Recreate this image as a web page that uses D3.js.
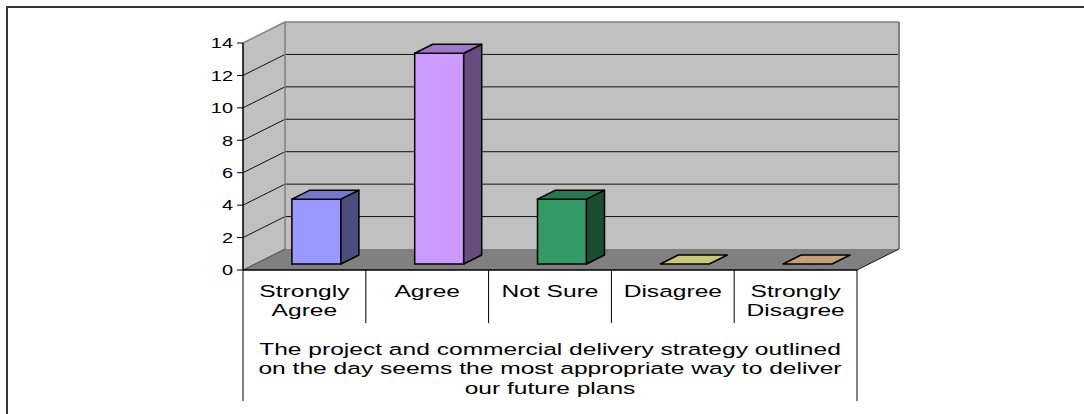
<!DOCTYPE html>
<html>
<head>
<meta charset="utf-8">
<script src="https://cdn.jsdelivr.net/npm/d3@7"></script>
<style>
  html, body { margin: 0; padding: 0; background: #fff; }
  svg { display: block; }
</style>
</head>
<body>
<div id="chart"></div>
<script>
// data
var categories = ["Strongly Agree", "Agree", "Not Sure", "Disagree", "Strongly Disagree"];
var catLines = [["Strongly", "Agree"], ["Agree"], ["Not Sure"], ["Disagree"], ["Strongly", "Disagree"]];
var values = [4, 13, 4, 0, 0];
var yTicks = [0, 2, 4, 6, 8, 10, 12, 14];
var titleLines = [
  "The project and commercial delivery strategy outlined",
  "on the day seems the most appropriate way to deliver",
  "our future plans"
];
var fronts = ["#9999ff", "#cc99ff", "#339966", "#ffff99", "#ffcc99"];

var width = 1084, height = 414;
var svg = d3.select("#chart").append("svg")
  .attr("width", width)
  .attr("height", height)
  .attr("font-family", "'Liberation Sans', Arial, sans-serif");

// outer frame (right and bottom run past the window)
svg.append("rect")
  .attr("x", 7).attr("y", 7)
  .attr("width", 1200).attr("height", 500)
  .attr("fill", "#fff")
  .attr("stroke", "#333").attr("stroke-width", 2);

var x = d3.scaleBand().domain(categories).range([243, 857]);
var y = d3.scaleLinear().domain([0, 14]).range([270, 43]);
var dx = 42, dy = -21;   // depth of the 3d box
var d0 = 0.2857, d1 = 0.7143;  // bar depth span
var stretch = 1.33;      // text in the original is stretched sideways
var fs = 15;
var lfs = 16.5, lstretch = 1.49;  // category + title text

var x0 = x.range()[0], x1 = x.range()[1];
var yb = y(0), yt = y(14);

// side wall
svg.append("polygon")
  .attr("points", [[x0, yb], [x0 + dx, yb + dy], [x0 + dx, yt + dy], [x0, yt]].join(" "))
  .attr("fill", "#c0c0c0");
// back wall
svg.append("rect")
  .attr("x", x0 + dx).attr("y", yt + dy)
  .attr("width", x1 - x0).attr("height", yb - yt)
  .attr("fill", "#c0c0c0");
// floor
svg.append("polygon")
  .attr("points", [[x0, yb], [x1, yb], [x1 + dx, yb + dy], [x0 + dx, yb + dy]].join(" "))
  .attr("fill", "#808080");

// gridlines on back wall and side wall
yTicks.filter(function(d) { return d > 0; }).forEach(function(t) {
  svg.append("line")
    .attr("x1", x0 + dx).attr("x2", x1 + dx)
    .attr("y1", y(t) + dy).attr("y2", y(t) + dy)
    .attr("stroke", t == 14 ? "#808080" : "#111").attr("stroke-width", t == 14 ? 1.5 : 1);
  svg.append("line")
    .attr("x1", x0).attr("x2", x0 + dx)
    .attr("y1", y(t)).attr("y2", y(t) + dy)
    .attr("stroke", t == 14 ? "#808080" : "#111").attr("stroke-width", t == 14 ? 1.5 : 1);
});
// wall edges
svg.append("line")
  .attr("x1", x0 + dx).attr("x2", x0 + dx)
  .attr("y1", yt + dy).attr("y2", yb + dy)
  .attr("stroke", "#808080").attr("stroke-width", 1.5);
svg.append("line")
  .attr("x1", x1 + dx).attr("x2", x1 + dx)
  .attr("y1", yt + dy).attr("y2", yb + dy)
  .attr("stroke", "#808080").attr("stroke-width", 2);
svg.append("line")
  .attr("x1", x0).attr("x2", x0 + dx)
  .attr("y1", yb).attr("y2", yb + dy)
  .attr("stroke", "#444").attr("stroke-width", 1);
svg.append("line")
  .attr("x1", x1).attr("x2", x1 + dx)
  .attr("y1", yb).attr("y2", yb + dy)
  .attr("stroke", "#111").attr("stroke-width", 1);

// bars
var barW = 49;
var bars = svg.selectAll("g.bar")
  .data(categories.map(function(c, i) { return {cat: c, value: values[i], color: fronts[i]}; }))
  .enter().append("g").attr("class", "bar");

bars.each(function(d) {
  var g = d3.select(this);
  var fx = x(d.cat) + x.bandwidth() / 2 - barW / 2 + d0 * dx;
  var fb = yb + d0 * dy, ft = y(d.value) + d0 * dy;
  var ox = (d1 - d0) * dx, oy = (d1 - d0) * dy;
  var c = d3.color(d.color);
  var top = d3.rgb(c.r * 0.78, c.g * 0.78, c.b * 0.78);
  var side = d3.rgb(c.r * 0.5, c.g * 0.5, c.b * 0.5);
  if (d.value > 0) {
    g.append("rect")
      .attr("x", fx).attr("y", ft).attr("width", barW).attr("height", fb - ft)
      .attr("fill", d.color).attr("stroke", "#000").attr("stroke-width", 1.5);
    g.append("polygon")
      .attr("points", [[fx + barW, fb], [fx + barW + ox, fb + oy], [fx + barW + ox, ft + oy], [fx + barW, ft]].join(" "))
      .attr("fill", side).attr("stroke", "#000").attr("stroke-width", 1.5).attr("stroke-linejoin", "round");
  }
  g.append("polygon")
    .attr("points", [[fx, ft], [fx + barW, ft], [fx + barW + ox, ft + oy], [fx + ox, ft + oy]].join(" "))
    .attr("fill", top).attr("stroke", "#000").attr("stroke-width", 1.5).attr("stroke-linejoin", "round");
});

// value axis
svg.append("line")
  .attr("x1", x0).attr("x2", x0).attr("y1", yt).attr("y2", yb)
  .attr("stroke", "#000").attr("stroke-width", 1.5);
yTicks.forEach(function(t) {
  svg.append("line")
    .attr("x1", x0 - 6).attr("x2", x0).attr("y1", y(t)).attr("y2", y(t))
    .attr("stroke", "#000");
  svg.append("text")
    .attr("transform", "translate(" + (x0 - 10) + "," + y(t) + ") scale(" + stretch + ",1)")
    .attr("text-anchor", "end").attr("dy", "0.35em")
    .attr("font-size", fs).attr("fill", "#000")
    .text(t);
});

// category table below the plot
svg.append("line")
  .attr("x1", x0).attr("x2", x1).attr("y1", yb).attr("y2", yb)
  .attr("stroke", "#000").attr("stroke-width", 1.5);
categories.forEach(function(c, i) {
  var bx = x(c);
  if (i > 0) {
    svg.append("line")
      .attr("x1", bx).attr("x2", bx).attr("y1", yb).attr("y2", 323)
      .attr("stroke", "#000");
  }
  catLines[i].forEach(function(l, j) {
    svg.append("text")
      .attr("transform", "translate(" + (bx + x.bandwidth() / 2) + "," + (291 + j * 19.5) + ") scale(" + lstretch + ",1)")
      .attr("text-anchor", "middle").attr("dy", "0.35em")
      .attr("font-size", lfs).attr("fill", "#000")
      .text(l);
  });
});
[x0, x1].forEach(function(v) {
  svg.append("line")
    .attr("x1", v).attr("x2", v).attr("y1", yb).attr("y2", 401)
    .attr("stroke", "#000");
});
titleLines.forEach(function(l, j) {
  svg.append("text")
    .attr("transform", "translate(" + ((x0 + x1) / 2) + "," + (349 + j * 19.5) + ") scale(" + lstretch + ",1)")
    .attr("text-anchor", "middle").attr("dy", "0.35em")
    .attr("font-size", lfs).attr("fill", "#000")
    .text(l);
});
</script>
</body>
</html>
